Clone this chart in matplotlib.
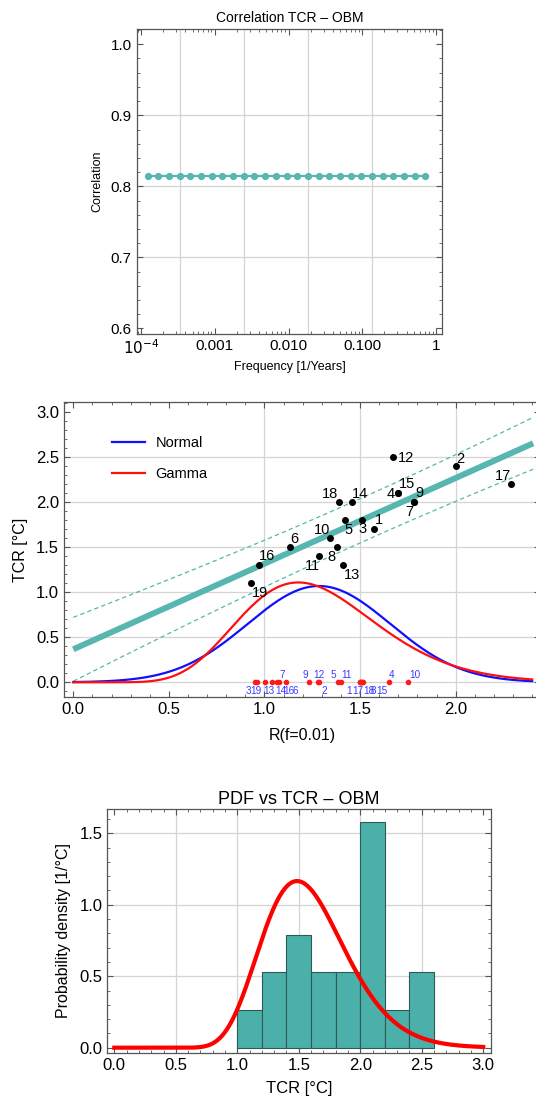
import numpy as np
import matplotlib
matplotlib.use("Agg")
import matplotlib.pyplot as plt
from matplotlib.ticker import FixedLocator, MultipleLocator, LogLocator, NullFormatter
from math import lgamma

plt.rcParams['font.family'] = ['Liberation Sans', 'DejaVu Sans']

# --- panel 1: correlation vs frequency
freq = [1.234e-4, 1.722e-4, 2.403e-4, 3.355e-4, 4.682e-4, 6.535e-4, 9.119e-4,
        1.273e-3, 1.776e-3, 2.479e-3, 3.459e-3, 4.828e-3, 6.738e-3, 9.404e-3,
        1.312e-2, 1.832e-2, 2.556e-2, 3.567e-2, 4.979e-2, 6.948e-2, 9.697e-2,
        0.1353, 0.1889, 0.2636, 0.3679, 0.5134, 0.7165]
corr = [0.815] * len(freq)

# --- panel 2: models (R at f=0.01 vs TCR)
model_id = ['1', '2', '3', '4', '5', '6', '7', '8', '9', '10',
            '11', '12', '13', '14', '15', '16', '17', '18', '19']
r_val = [1.574, 2.003, 1.512, 1.700, 1.419, 1.135, 1.784, 1.378, 1.784, 1.341,
         1.285, 1.672, 1.411, 1.456, 1.700, 0.973, 2.289, 1.391, 0.928]
tcr = [1.7, 2.4, 1.8, 2.1, 1.8, 1.5, 2.0, 1.5, 2.0, 1.6,
       1.4, 2.5, 1.3, 2.0, 2.1, 1.3, 2.2, 2.0, 1.1]

rug_r = [0.950, 0.959, 1.003, 1.038, 1.064, 1.076, 1.111, 1.233, 1.280, 1.287,
         1.386, 1.400, 1.497, 1.502, 1.507, 1.512, 1.517, 1.651, 1.752]
rug_lab = ['3', '19', '13', '14', '16', '7', '6', '9', '12', '2',
           '5', '11', '1', '17', '18', '8', '15', '4', '10']
rug_above = ['7', '9', '12', '5', '11', '4', '10']

# fitted distribution of R
r_mean = 1.285
r_sd = 0.373

hist_edges = [1.0, 1.2, 1.4, 1.6, 1.8, 2.0, 2.2, 2.4, 2.6]

# label offsets (pixels, right / down) for the scatter labels
lab_off = {'1': (5, -9), '2': (4, -7), '3': (0, 9), '4': (-8, 1), '5': (4, 10),
           '6': (4, -8), '7': (-5, 10), '8': (-5, 10), '9': (5, -9), '10': (-8, -8),
           '11': (-7, 10), '12': (13, 1), '13': (9, 10), '14': (8, -8), '15': (9, -9),
           '16': (8, -9), '17': (-8, -8), '18': (-9, -8), '19': (9, 10)}
# horizontal nudges (pixels) for the rug labels
rug_dx = {'3': -6, '19': -1, '13': 4, '14': 9, '16': 12, '7': 3, '6': 10, '9': -4,
          '12': 1, '2': 5, '5': -5, '11': 6, '1': -10, '17': -3, '18': 7, '8': 11,
          '15': 19, '4': 3, '10': 7}

TEAL = '#58b6b0'
FRAME = '#555555'
GRID = '#d4d4d4'


def gamma_pdf(x, k, th):
    x = np.asarray(x, dtype=float)
    out = np.zeros_like(x)
    m = x > 0
    out[m] = np.exp((k - 1) * np.log(x[m]) - x[m] / th - lgamma(k) - k * np.log(th))
    return out


def style(ax, fs):
    for s in ax.spines.values():
        s.set_color(FRAME)
        s.set_linewidth(0.9)
    ax.tick_params(which='both', direction='in', top=True, right=True,
                   colors=FRAME, labelcolor='black', labelsize=fs)
    ax.tick_params(which='major', length=4, width=0.8)
    ax.tick_params(which='minor', length=2.2, width=0.6)


fig = plt.figure(figsize=(5.36, 11.03), dpi=100)
W, H = 536, 1103


def axes_px(x0, y0, x1, y1):
    return fig.add_axes([x0 / W, 1 - y1 / H, (x1 - x0) / W, (y1 - y0) / H])


# ---------------- panel 1
ax1 = axes_px(136.7, 29, 442.3, 333.7)
ax1.set_xscale('log')
ax1.set_xlim(10 ** -4.058, 10 ** 0.085)
ax1.set_ylim(0.5926, 1.0215)
for g in [np.exp(-8), np.exp(-6), np.exp(-4), np.exp(-2)]:
    ax1.axvline(g, color=GRID, lw=0.9, zorder=0)
for g in [0.7, 0.8, 0.9]:
    ax1.axhline(g, color=GRID, lw=0.9, zorder=0)
ax1.plot(freq, corr, '-o', color=TEAL, lw=1.6, ms=4.2, zorder=3)
ax1.xaxis.set_major_locator(FixedLocator([1e-4, 1e-3, 1e-2, 1e-1, 1]))
ax1.set_xticklabels(['$10^{-4}$', '0.001', '0.010', '0.100', '1'])
ax1.xaxis.set_minor_locator(LogLocator(base=10, subs=np.arange(2, 10)))
ax1.xaxis.set_minor_formatter(NullFormatter())
ax1.yaxis.set_major_locator(MultipleLocator(0.1))
ax1.yaxis.set_minor_locator(MultipleLocator(0.02))
ax1.yaxis.set_major_formatter(matplotlib.ticker.FormatStrFormatter('%.1f'))
style(ax1, 11)
ax1.set_title('Correlation TCR \u2013 OBM', fontsize=10, pad=5)
ax1.set_xlabel('Frequency [1/Years]', fontsize=9, labelpad=3)
ax1.set_ylabel('Correlation', fontsize=9, labelpad=5)

# ---------------- panel 2
ax2 = axes_px(64, 402.3, 540, 696.7)
ax2.set_xlim(-0.0486, 2.441)
ax2.set_ylim(-0.16, 3.11)
for g in [1.0, 1.5, 2.0]:
    ax2.axvline(g, color=GRID, lw=0.9, zorder=0)
for g in [0.0, 0.5, 1.0, 1.5, 2.0, 2.5]:
    ax2.axhline(g, color=GRID, lw=0.9, zorder=0)

r_arr = np.array(r_val)
t_arr = np.array(tcr)
b, a = np.polyfit(r_arr, t_arr, 1)
n = len(r_arr)
res = t_arr - (a + b * r_arr)
s = np.sqrt(np.sum(res ** 2) / (n - 2))
sxx = np.sum((r_arr - r_arr.mean()) ** 2)
xx = np.linspace(0, 2.405, 300)
fit = a + b * xx
half = 1.03 * s * np.sqrt(1 + 1 / n + (xx - r_arr.mean()) ** 2 / sxx)

k_g = (r_mean / r_sd) ** 2
th_g = r_sd ** 2 / r_mean
xc = np.linspace(0, 2.4, 400)
normal_pdf = np.exp(-0.5 * ((xc - r_mean) / r_sd) ** 2) / (r_sd * np.sqrt(2 * np.pi))
gam = gamma_pdf(xc, k_g, th_g)

ax2.plot(xx, fit, color=TEAL, lw=4.3, solid_capstyle='butt', zorder=2)
ax2.plot(xx, fit + half, color=TEAL, lw=0.9, ls=(0, (3.5, 2.5)), zorder=2)
ax2.plot(xx, fit - half, color=TEAL, lw=0.9, ls=(0, (3.5, 2.5)), zorder=2)
ax2.plot(xc, normal_pdf, color='#1010ff', lw=1.6, zorder=3, label='Normal')
ax2.plot(xc, gam, color='#ff1010', lw=1.6, zorder=3, label='Gamma')

ax2.scatter(r_val, tcr, s=16, color='black', zorder=5)
for lab, x, y in zip(model_id, r_val, tcr):
    dx, dy = lab_off[lab]
    ax2.annotate(lab, (x, y), xytext=(dx * 0.72, -dy * 0.72), textcoords='offset points',
                 ha='center', va='center', fontsize=10.5, zorder=6)

ax2.scatter(rug_r, [0] * len(rug_r), s=9, color='#ff1a1a', zorder=5)
for lab, x in zip(rug_lab, rug_r):
    up = lab in rug_above
    ax2.annotate(lab, (x, 0), xytext=(rug_dx[lab] * 0.72, 5.5 if up else -6.5),
                 textcoords='offset points', ha='center', va='center',
                 fontsize=7.2, color='#3a3aff', zorder=6)

leg = ax2.legend(loc='upper left', bbox_to_anchor=(0.088, 0.905), frameon=False,
                 fontsize=10.5, handlelength=2.3, handletextpad=0.7, labelspacing=1.15,
                 borderaxespad=0)

ax2.xaxis.set_major_locator(MultipleLocator(0.5))
ax2.xaxis.set_minor_locator(MultipleLocator(0.1))
ax2.yaxis.set_major_locator(MultipleLocator(0.5))
ax2.yaxis.set_minor_locator(MultipleLocator(0.1))
ax2.xaxis.set_major_formatter(matplotlib.ticker.FormatStrFormatter('%.1f'))
ax2.yaxis.set_major_formatter(matplotlib.ticker.FormatStrFormatter('%.1f'))
style(ax2, 12)
ax2.set_xlabel('R(f=0.01)', fontsize=11.5, labelpad=8)
ax2.set_ylabel('TCR [\u00b0C]', fontsize=11.5, labelpad=6)

# ---------------- panel 3
ax3 = axes_px(107.3, 809.3, 491, 1052.7)
ax3.set_xlim(-0.057, 3.063)
ax3.set_ylim(-0.035, 1.668)
for g in [0.5, 1.0, 1.5, 2.0, 2.5]:
    ax3.axvline(g, color=GRID, lw=0.9, zorder=0)
for g in [0.5, 1.0, 1.5]:
    ax3.axhline(g, color=GRID, lw=0.9, zorder=0)
ax3.hist(tcr, bins=hist_edges, density=True, color='#4cb0aa', edgecolor='#2c5a57',
         linewidth=0.8, zorder=2)
tt = np.linspace(0, 3.0, 500)
pdf_t = gamma_pdf((tt - a) / b, k_g, th_g) / b
ax3.plot(tt, pdf_t, color='#ff0000', lw=3.0, zorder=4)
ax3.xaxis.set_major_locator(MultipleLocator(0.5))
ax3.xaxis.set_minor_locator(MultipleLocator(0.1))
ax3.yaxis.set_major_locator(MultipleLocator(0.5))
ax3.yaxis.set_minor_locator(MultipleLocator(0.1))
ax3.xaxis.set_major_formatter(matplotlib.ticker.FormatStrFormatter('%.1f'))
ax3.yaxis.set_major_formatter(matplotlib.ticker.FormatStrFormatter('%.1f'))
style(ax3, 12)
ax3.set_title('PDF vs TCR \u2013 OBM', fontsize=13, pad=4)
ax3.set_xlabel('TCR [\u00b0C]', fontsize=12, labelpad=6)
ax3.set_ylabel('Probability density [1/\u00b0C]', fontsize=11.5, labelpad=6)

fig.savefig('out.png', dpi=100)
